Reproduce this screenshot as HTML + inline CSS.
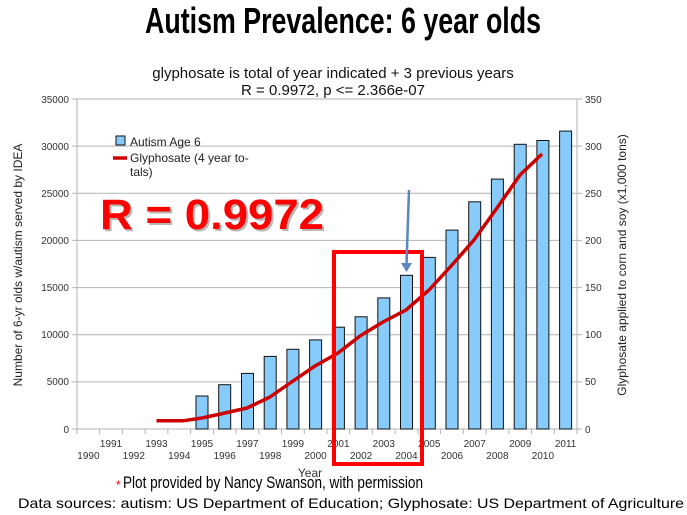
<!DOCTYPE html>
<html><head><meta charset="utf-8"><style>
html,body{margin:0;padding:0;background:#fff;}
svg{display:block;}
</style></head><body>
<svg width="687" height="515" xmlns="http://www.w3.org/2000/svg" font-family="Liberation Sans, sans-serif">
<text x="343" y="33" text-anchor="middle" font-size="36" font-weight="bold" textLength="396" lengthAdjust="spacingAndGlyphs">Autism Prevalence: 6 year olds</text>
<text x="333" y="78" text-anchor="middle" font-size="15" fill="#111">glyphosate is total of year indicated + 3 previous years</text>
<text x="333" y="95" text-anchor="middle" font-size="15" fill="#111">R = 0.9972, p &lt;= 2.366e-07</text>
<g stroke="#b3b3b3" stroke-width="1">
<line x1="77" x2="577" y1="99" y2="99"/><line x1="77" x2="577" y1="146.1" y2="146.1"/><line x1="77" x2="577" y1="193.3" y2="193.3"/><line x1="77" x2="577" y1="240.4" y2="240.4"/><line x1="77" x2="577" y1="287.6" y2="287.6"/><line x1="77" x2="577" y1="334.7" y2="334.7"/><line x1="77" x2="577" y1="381.9" y2="381.9"/><line x1="77" x2="577" y1="429" y2="429"/>
<line x1="77" x2="77" y1="99" y2="429"/><line x1="577" x2="577" y1="99" y2="429"/>
</g>
<g stroke="#b3b3b3">
<path d="M72 99h5M72 146.1h5M72 193.3h5M72 240.4h5M72 287.6h5M72 334.7h5M72 381.9h5M72 429h5M577 99h5M577 146.1h5M577 193.3h5M577 240.4h5M577 287.6h5M577 334.7h5M577 381.9h5M577 429h5"/>
<path d="M77 429v5M99.7 429v5M122.5 429v5M145.2 429v5M167.9 429v5M190.6 429v5M213.4 429v5M236.1 429v5M258.8 429v5M281.5 429v5M304.3 429v5M327 429v5M349.7 429v5M372.4 429v5M395.2 429v5M417.9 429v5M440.6 429v5M463.3 429v5M486.1 429v5M508.8 429v5M531.5 429v5M554.2 429v5M577 429v5"/>
</g>
<g font-size="10" fill="#333" text-anchor="end">
<text x="69" y="103">35000</text><text x="69" y="150">30000</text><text x="69" y="197">25000</text><text x="69" y="244">20000</text><text x="69" y="291">15000</text><text x="69" y="338">10000</text><text x="69" y="385">5000</text><text x="69" y="433">0</text>
</g>
<g font-size="10" fill="#333">
<text x="585" y="103">350</text><text x="585" y="150">300</text><text x="585" y="197">250</text><text x="585" y="244">200</text><text x="585" y="291">150</text><text x="585" y="338">100</text><text x="585" y="385">50</text><text x="585" y="433">0</text>
</g>
<text transform="translate(22,265) rotate(-90)" text-anchor="middle" font-size="12" fill="#222">Number of 6-yr olds w/autism served by IDEA</text>
<text transform="translate(626,265) rotate(-90)" text-anchor="middle" font-size="12" fill="#222">Glyphosate applied to corn and soy (x1,000 tons)</text>
<g font-size="10" fill="#333" text-anchor="middle">
<text x="111" y="447">1991</text><text x="156.5" y="447">1993</text><text x="202" y="447">1995</text><text x="247.4" y="447">1997</text><text x="292.9" y="447">1999</text><text x="338.4" y="447">2001</text><text x="383.8" y="447">2003</text><text x="429.3" y="447">2005</text><text x="474.7" y="447">2007</text><text x="520.2" y="447">2009</text><text x="565.6" y="447">2011</text>
<text x="88.4" y="459">1990</text><text x="133.8" y="459">1992</text><text x="179.3" y="459">1994</text><text x="224.7" y="459">1996</text><text x="270.2" y="459">1998</text><text x="315.6" y="459">2000</text><text x="361.1" y="459">2002</text><text x="406.5" y="459">2004</text><text x="452" y="459">2006</text><text x="497.4" y="459">2008</text><text x="542.9" y="459">2010</text>
<text x="310" y="477" font-size="12">Year</text>
</g>
<g fill="#87cbfb" stroke="#111" stroke-width="1">
<rect x="196" y="396" width="12" height="33"/>
<rect x="218.7" y="384.7" width="12" height="44.3"/>
<rect x="241.5" y="373.4" width="12" height="55.6"/>
<rect x="264.2" y="356.4" width="12" height="72.6"/>
<rect x="286.9" y="349.3" width="12" height="79.7"/>
<rect x="309.6" y="339.9" width="12" height="89.1"/>
<rect x="332.4" y="327.2" width="12" height="101.8"/>
<rect x="355.1" y="316.8" width="12" height="112.2"/>
<rect x="377.8" y="297.9" width="12" height="131.1"/>
<rect x="400.5" y="275.3" width="12" height="153.7"/>
<rect x="423.3" y="257.4" width="12" height="171.6"/>
<rect x="446" y="230.1" width="12" height="198.9"/>
<rect x="468.7" y="201.8" width="12" height="227.2"/>
<rect x="491.4" y="179.1" width="12" height="249.9"/>
<rect x="514.2" y="144.3" width="12" height="284.7"/>
<rect x="536.9" y="140.5" width="12" height="288.5"/>
<rect x="559.6" y="131.1" width="12" height="297.9"/>
</g>
<polyline fill="none" stroke="#cc0000" stroke-width="3.5" stroke-linejoin="round" points="156.5,420.7 184,420.7 202,418 225,413 247,408 270,397 293,381 315,366 338,353 360,336 383,322 406,310 429,290 452,265 474,240 497,208 520,175 542,154"/>
<rect x="116" y="136" width="9" height="9" fill="#87cbfb" stroke="#111"/>
<line x1="113" y1="158" x2="127" y2="158" stroke="#cc0000" stroke-width="3.5"/>
<g font-size="12" fill="#222"><text x="130" y="146">Autism Age 6</text><text x="130" y="162">Glyphosate (4 year to-</text><text x="130" y="176">tals)</text></g>
<text x="102" y="231" font-size="43" font-weight="bold" fill="#888" opacity="0.6" textLength="224" lengthAdjust="spacingAndGlyphs">R = 0.9972</text>
<text x="100" y="229" font-size="43" font-weight="bold" fill="#ff0000" textLength="224" lengthAdjust="spacingAndGlyphs">R = 0.9972</text>
<rect x="334" y="252" width="88" height="212" fill="none" stroke="#ff0000" stroke-width="4"/>
<line x1="409" y1="190" x2="406.5" y2="264" stroke="#5a87c0" stroke-width="2.5"/>
<polygon points="401,263 412,263 406.5,272" fill="#5a87c0"/>
<text x="116" y="489" font-size="12" fill="#ff0000">*</text>
<text x="123" y="488" font-size="17" textLength="300" lengthAdjust="spacingAndGlyphs">Plot provided by Nancy Swanson, with permission</text>
<text x="18" y="508" font-size="14" textLength="666" lengthAdjust="spacingAndGlyphs">Data sources: autism: US Department of Education; Glyphosate: US Department of Agriculture</text>
</svg>
</body></html>
